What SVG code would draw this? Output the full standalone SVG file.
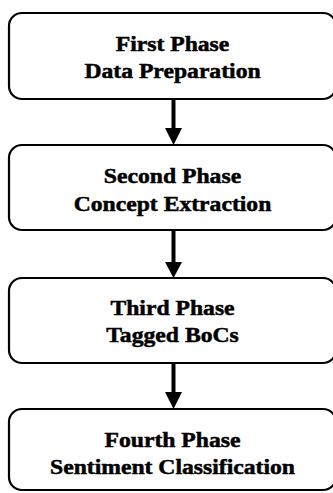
<svg xmlns="http://www.w3.org/2000/svg" width="333" height="493" viewBox="0 0 333 493">
  <style>
    .box { fill: #ffffff; stroke: #000000; stroke-width: 2.2; }
    .lbl { font-family: "Liberation Serif", "Times New Roman", serif; font-weight: bold; font-size: 21.5px; fill: #000000; stroke: #000000; stroke-width: 0.5; text-anchor: middle; }
    .wire { stroke: #000000; stroke-width: 4; fill: none; }
    .head { fill: #000000; }
  </style>
  <rect width="333" height="493" fill="#ffffff"/>

  <g id="connectors">
    <line class="wire" x1="173.5" y1="99" x2="173.5" y2="130"/>
    <polygon class="head" points="165,128 182,128 173.5,145"/>
    <line class="wire" x1="173.5" y1="230" x2="173.5" y2="264"/>
    <polygon class="head" points="165,262 182,262 173.5,278"/>
    <line class="wire" x1="173.5" y1="363" x2="173.5" y2="394"/>
    <polygon class="head" points="165,392 182,392 173.5,409"/>
  </g>

  <g id="phase1">
    <rect x="9" y="13" width="327" height="86" rx="13" ry="13" class="box"/>
    <text class="lbl" transform="translate(172.5,50.5) scale(1.1,1)">First Phase</text>
    <text class="lbl" transform="translate(172.5,78) scale(1.1,1)">Data Preparation</text>
  </g>

  <g id="phase2">
    <rect x="9" y="145" width="327" height="85" rx="13" ry="13" class="box"/>
    <text class="lbl" transform="translate(172.5,183) scale(1.1,1)">Second Phase</text>
    <text class="lbl" transform="translate(172.5,211) scale(1.1,1)">Concept Extraction</text>
  </g>

  <g id="phase3">
    <rect x="9" y="278" width="327" height="85" rx="13" ry="13" class="box"/>
    <text class="lbl" transform="translate(172.5,315) scale(1.1,1)">Third Phase</text>
    <text class="lbl" transform="translate(172.5,342) scale(1.1,1)">Tagged BoCs</text>
  </g>

  <g id="phase4">
    <rect x="9" y="409" width="327" height="81" rx="13" ry="13" class="box"/>
    <text class="lbl" transform="translate(172.5,447) scale(1.1,1)">Fourth Phase</text>
    <text class="lbl" transform="translate(172.5,473.5) scale(1.1,1)">Sentiment Classification</text>
  </g>
</svg>
